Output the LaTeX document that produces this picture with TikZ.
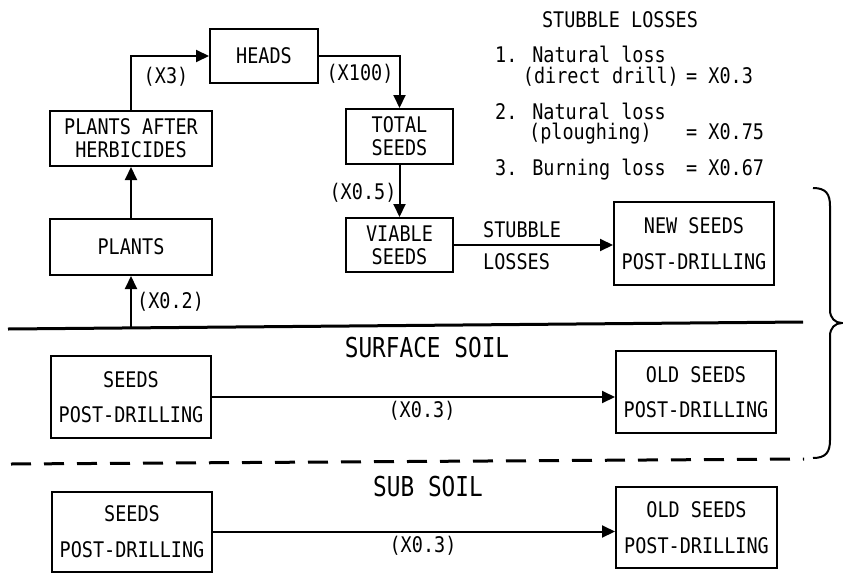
\documentclass[tikz,border=0pt]{standalone}
\usepackage{fontspec}
\usetikzlibrary{arrows.meta}
\newfontfamily\dmono[FakeStretch=0.86]{DejaVu Sans Mono}
\newfontfamily\dbig[FakeStretch=0.83]{DejaVu Sans Mono}
\tikzset{
  txt/.style={font=\dmono\fontsize{21.5}{23}\selectfont, inner sep=0pt},
  bigtxt/.style={font=\dbig\fontsize{27.4}{30}\selectfont, inner sep=0pt},
  box/.style={draw, line width=2pt, inner sep=0pt, align=center, font=\dmono\fontsize{21.5}{23}\selectfont},
  loosebox/.style={box, font=\dmono\fontsize{21.5}{35.5}\selectfont},
  arr/.style={line width=2pt, -{Triangle[length=13pt,width=12pt]}},
}
\begin{document}
\begin{tikzpicture}[x=1pt,y=-1pt]
\useasboundingbox (0,0) rectangle (843,573);

% upper boxes
\node[box, minimum width=108pt, minimum height=54pt] (heads) at (264,56) {HEADS};
\node[box, minimum width=162pt, minimum height=55pt] (pah) at (131,138.5) {PLANTS AFTER\\HERBICIDES};
\node[box, minimum width=162pt, minimum height=56pt] (plants) at (131,247) {PLANTS};
\node[box, minimum width=107pt, minimum height=55pt] (total) at (399.5,136.5) {TOTAL\\SEEDS};
\node[box, minimum width=107pt, minimum height=54pt] (viable) at (399.5,245) {VIABLE\\SEEDS};
\node[loosebox, minimum width=160pt, minimum height=83pt] (newseeds) at (694,243.5) {NEW SEEDS\\POST-DRILLING};

% lower boxes
\node[loosebox, minimum width=160pt, minimum height=82pt] (seeds1) at (131,397) {SEEDS\\POST-DRILLING};
\node[loosebox, minimum width=160pt, minimum height=82pt] (old1) at (696,392) {OLD SEEDS\\POST-DRILLING};
\node[loosebox, minimum width=160pt, minimum height=80pt] (seeds2) at (132,531.5) {SEEDS\\POST-DRILLING};
\node[loosebox, minimum width=161pt, minimum height=81pt] (old2) at (696.5,527.5) {OLD SEEDS\\POST-DRILLING};

% soil lines
\coordinate (gl) at (8,329);
\coordinate (gr) at (803,322);
\coordinate (g) at (131,328.2);
\coordinate (dl) at (11,464);
\coordinate (dr) at (804,459);
\draw[line width=3pt] (gl) -- (gr);
\draw[line width=3pt, dash pattern=on 20pt off 13pt] (dl) -- (dr);

% connectors
\draw[arr] (pah.north) |- (heads.west);
\draw[arr] (heads.east) -| (total.north);
\draw[arr] (total.south) -- (viable.north);
\draw[arr] (plants.north) -- (pah.south);
\draw[arr] (g) -- (plants.south);
\draw[arr] (viable.east) -- (viable.east -| newseeds.west);
\draw[arr] (seeds1.east) -- (seeds1.east -| old1.west);
\draw[arr] (seeds2.east) -- (seeds2.east -| old2.west);

% brace
\coordinate (bt) at (813,188);
\coordinate (bm) at (842,323);
\coordinate (bb) at (813,458);
\draw[line width=2pt] (bt) .. controls (826,188) and (830,194) .. (830,206) -- (830,310)
  .. controls (830,318) and (835,323) .. (bm)
  .. controls (835,323) and (830,328) .. (830,336) -- (830,440)
  .. controls (830,452) and (826,458) .. (bb);

% labels
\node[txt] (lx3) at (166,77) {(X3)};
\node[txt] (lx100) at (360,74) {(X100)};
\node[txt] (lx05) at (363,193) {(X0.5)};
\node[txt, anchor=west] (lx02) at (137,302) {(X0.2)};
\node[txt, anchor=west] (lstub) at (483,230) {STUBBLE};
\node[txt, anchor=west] (lloss) at (483,262) {LOSSES};
\node[txt] (lx03a) at (422,411) {(X0.3)};
\node[txt] (lx03b) at (423,546) {(X0.3)};
\node[bigtxt] (surf) at (427,348) {SURFACE SOIL};
\node[bigtxt] (sub) at (428,487) {SUB SOIL};

% stubble losses legend
\node[txt] (sltitle) at (620,20) {STUBBLE LOSSES};
\node[txt, anchor=base west] (l1a) at (495,62) {1. Natural loss};
\node[txt, anchor=base east] (l1b) at (679,83) {(direct drill)};
\node[txt, anchor=base west] (l1c) at (686,83) {= X0.3};
\node[txt, anchor=base west] (l2a) at (495,119) {2. Natural loss};
\node[txt, anchor=base west] (l2b) at (529,139) {(ploughing)};
\node[txt, anchor=base west] (l2c) at (686,139) {= X0.75};
\node[txt, anchor=base west] (l3a) at (495,175) {3. Burning loss};
\node[txt, anchor=base west] (l3c) at (686,175) {= X0.67};
\end{tikzpicture}
\end{document}
